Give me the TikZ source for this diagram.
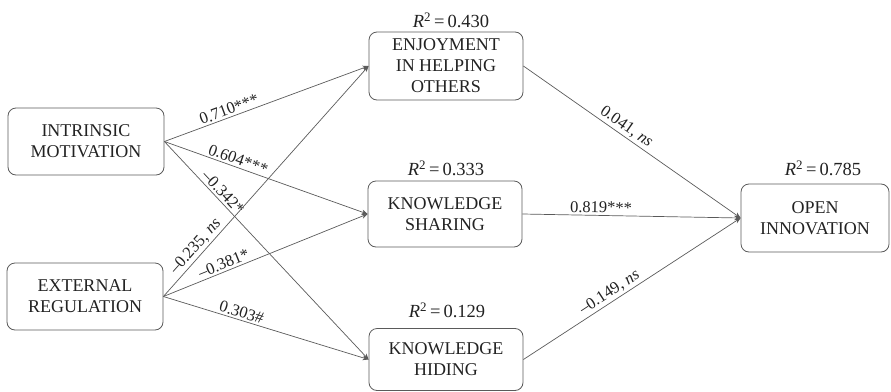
\documentclass[tikz,border=0pt]{standalone}
\usepackage{fontspec}
\setmainfont{Liberation Serif}
\usetikzlibrary{arrows.meta}
\definecolor{ln}{HTML}{5A5A5A}
\definecolor{tx}{HTML}{222222}
\begin{document}
\begin{tikzpicture}[x=1pt,y=-1pt,
  box/.style={draw=ln,line width=0.8pt,rounded corners=8pt,align=center,text=tx,
    font=\fontsize{18}{21}\selectfont,inner sep=0pt},
  rsq/.style={text=tx,font=\fontsize{18.5}{20}\selectfont,inner sep=0pt},
  path/.style={draw=ln,line width=0.7pt,-{Stealth[length=6pt,width=5pt]}},
  lab/.style={sloped,above,text=tx,font=\fontsize{16.5}{19}\selectfont,inner sep=2pt}]
\useasboundingbox (0,0) rectangle (891,391);
\node[box,minimum width=156pt,minimum height=67pt] (im) at (86,141.5) {INTRINSIC\\MOTIVATION};
\node[box,minimum width=156pt,minimum height=67pt] (er) at (85,296.5) {EXTERNAL\\REGULATION};
\node[box,minimum width=154pt,minimum height=68pt] (eih) at (446,66) {ENJOYMENT\\IN HELPING\\OTHERS};
\node[box,minimum width=154pt,minimum height=66pt] (ks) at (445,214) {KNOWLEDGE\\SHARING};
\node[box,minimum width=154pt,minimum height=62pt] (kh) at (446,359.5) {KNOWLEDGE\\HIDING};
\node[box,minimum width=148pt,minimum height=68pt] (oi) at (815,218) {OPEN\\INNOVATION};
\node[rsq] (r1) at (451,20) {\textit{R}\textsuperscript{2}\,=\,0.430};
\node[rsq] (r2) at (446,168) {\textit{R}\textsuperscript{2}\,=\,0.333};
\node[rsq] (r3) at (447,310) {\textit{R}\textsuperscript{2}\,=\,0.129};
\node[rsq] (r4) at (823,168) {\textit{R}\textsuperscript{2}\,=\,0.785};
\draw[path] (im.east) -- node[lab,pos=0.33] {0.710***} (eih.west);
\draw[path] (im.east) -- node[lab,pos=0.35] {0.604***} (ks.west);
\draw[path] (im.east) -- node[lab,pos=0.26] {\textendash0.342*} (kh.west);
\draw[path] (er.east) -- node[lab,pos=0.19] {\textendash0.235, \textit{ns}} (eih.west);
\draw[path] (er.east) -- node[lab,pos=0.31] {\textendash0.381*} (ks.west);
\draw[path] (er.east) -- node[lab,pos=0.37] {0.303\#} (kh.west);
\draw[path] (eih.east) -- node[lab,pos=0.45] {0.041, \textit{ns}} (oi.west);
\draw[path] (ks.east) -- node[lab,pos=0.36] {0.819***} (oi.west);
\draw[path] (kh.east) -- node[lab,pos=0.42] {\textendash0.149, \textit{ns}} (oi.west);
\end{tikzpicture}
\end{document}
